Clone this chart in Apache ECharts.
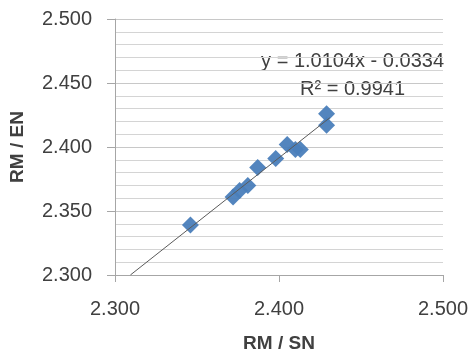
<!DOCTYPE html>
<html>
<head>
<meta charset="utf-8">
<script src="https://cdn.jsdelivr.net/npm/echarts@6/dist/echarts.min.js"></script>
<style>
  html, body { margin: 0; padding: 0; background: #fff; }
  #main { width: 472px; height: 354px; }
</style>
</head>
<body>
<div id="main"></div>
<script>
// RM / SN on x, RM / EN on y
const xValues = [2.346, 2.372, 2.376, 2.381, 2.387, 2.398, 2.405, 2.410, 2.413, 2.429, 2.429];
const yValues = [2.339, 2.361, 2.366, 2.370, 2.384, 2.391, 2.402, 2.398, 2.398, 2.426, 2.417];

// Excel linear trendline
const slope = 1.0104;
const intercept = -0.0334;
const trendRange = [2.3094, 2.431];

const xTicks = [2.3, 2.5, 0.1];
const yTicks = [2.3, 2.5, 0.05];

const points = xValues.map((x, i) => [x, yValues[i]]);
const trend = trendRange.map(x => [x, slope * x + intercept]);

const font = '"Liberation Sans", Arial, sans-serif';
const textColor = '#404040';

const chart = echarts.init(document.getElementById('main'), null, { renderer: 'canvas' });
chart.setOption({
  animation: false,
  backgroundColor: '#fff',
  grid: { left: 115, right: 29, top: 19, bottom: 79, outerBoundsMode: 'none', containLabel: false },
  xAxis: {
    type: 'value',
    min: xTicks[0], max: xTicks[1], interval: xTicks[2],
    name: 'RM / SN',
    nameLocation: 'middle',
    nameGap: 59,
    nameTextStyle: { fontFamily: font, fontSize: 19, fontWeight: 'bold', color: textColor },
    axisLine: { lineStyle: { color: '#a6a6a6' } },
    axisTick: { show: true, length: 7, lineStyle: { color: '#a6a6a6' } },
    axisLabel: { fontFamily: font, fontSize: 20, color: textColor, margin: 24, formatter: v => v.toFixed(3) },
    splitLine: { show: false }
  },
  yAxis: {
    type: 'value',
    min: yTicks[0], max: yTicks[1], interval: yTicks[2],
    name: 'RM / EN',
    nameLocation: 'middle',
    nameGap: 88,
    nameTextStyle: { fontFamily: font, fontSize: 19, fontWeight: 'bold', color: textColor },
    axisLine: { show: true, lineStyle: { color: '#a6a6a6' } },
    axisTick: { show: true, length: 8, lineStyle: { color: '#a6a6a6' } },
    axisLabel: { fontFamily: font, fontSize: 20, color: textColor, margin: 23, formatter: v => v.toFixed(3) },
    splitLine: { show: true, lineStyle: { color: '#c8c8c8' } },
    minorTick: { show: false, splitNumber: 5 },
    minorSplitLine: { show: true, lineStyle: { color: '#d4d4d4' } }
  },
  series: [
    {
      type: 'line',
      data: trend,
      symbol: 'none',
      lineStyle: { color: '#5a5a5a', width: 1 },
      z: 3
    },
    {
      type: 'scatter',
      data: points,
      symbol: 'diamond',
      symbolSize: 17,
      itemStyle: { color: '#4a7ebb', opacity: 0.95 },
      z: 2
    }
  ],
  graphic: [
    {
      type: 'text', right: 28, top: 51,
      style: { text: 'y = 1.0104x - 0.0334', fontFamily: font, fontSize: 20, fill: textColor }
    },
    {
      type: 'text', left: 300, top: 79,
      style: { text: 'R² = 0.9941', fontFamily: font, fontSize: 20, fill: textColor }
    }
  ]
});
</script>
</body>
</html>
